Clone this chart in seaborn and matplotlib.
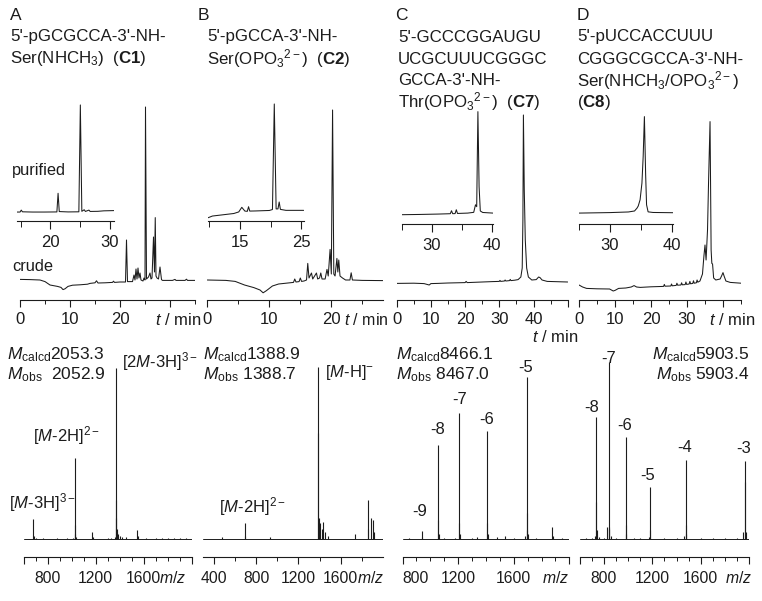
import matplotlib
matplotlib.use("Agg")
import matplotlib.pyplot as plt
import seaborn as sns
import pandas as pd

# ---------------- data ----------------
panel_letters = ["A", "B", "C", "D"]
header_lines = [
    ["5'-pGCGCCA-3'-NH-", r"Ser(NHCH$_3$)  ($\mathbf{C1}$)"],
    ["5'-pGCCA-3'-NH-", r"Ser(OPO$_3$$^{2-}$)  ($\mathbf{C2}$)"],
    ["5'-GCCCGGAUGU", "UCGCUUUCGGGC", "GCCA-3'-NH-",
     r"Thr(OPO$_3$$^{2-}$)  ($\mathbf{C7}$)"],
    ["5'-pUCCACCUUU", "CGGGCGCCA-3'-NH-",
     r"Ser(NHCH$_3$/OPO$_3$$^{2-}$)", r"($\mathbf{C8}$)"],
]
trace_labels = ["purified", "crude"]
time_label = r"$\mathit{t}$ / min"
mz_label = r"$\mathit{m/z}$"

# crude HPLC traces (t in min, signal in arbitrary units)
crudeA_t = [0, 2, 4, 5, 6, 7.5, 8.2, 8.6, 9.0, 9.6, 10.5, 12, 13.5, 14, 15, 15.3, 15.6, 17, 18.5,
            18.7, 18.9, 20, 21.1, 21.3, 21.5, 22.5, 22.8, 23.0, 23.2, 23.4, 23.6, 23.8, 24.0, 24.2,
            24.6, 24.8, 25.0, 25.1, 25.3, 25.7, 26.0, 26.2, 26.4, 26.7, 26.9, 27.05, 27.2, 27.4,
            27.7, 28.0, 28.3, 28.5, 29.5, 30.5, 31, 31.2, 33, 33.3, 33.5, 35]
crudeA_s = [10.3, 10.2, 10.0, 9.2, 7.5, 6.8, 6.3, 5.2, 5.6, 6.8, 7.4, 7.6, 7.9, 8.3, 8.6, 9.6, 8.5,
            8.6, 8.8, 9.4, 8.8, 9.0, 9.0, 30.0, 9.2, 9.2, 12.5, 10.0, 15.5, 10.5, 16.0, 11.0, 13.5,
            10.0, 9.5, 11.0, 10.0, 96.5, 10.5, 11.5, 13.5, 10.5, 11.0, 31.5, 14.0, 41.2, 12.0,
            11.0, 10.5, 16.5, 10.2, 9.8, 9.8, 9.8, 10.3, 9.8, 9.8, 10.4, 9.8, 9.8]
crudeA_t = crudeA_t[:len(crudeA_s)]

crudeB_t = [0, 3, 4.5, 6, 7.5, 8.5, 9.0, 9.5, 10.5, 11.5, 13, 13.9, 14.1, 14.3, 14.8, 15.0, 15.2,
            15.6, 16.0, 16.2, 16.4, 16.8, 17.0, 17.3, 17.6, 17.8, 18.1, 18.3, 18.5, 19.0, 19.3,
            19.5, 19.8, 20.0, 20.2, 20.4, 20.6, 20.9, 21.05, 21.2, 21.4, 21.8, 22.3, 23.0, 23.2,
            23.4, 25, 28.3]
crudeB_s = [10, 9.8, 9.3, 7.5, 6.2, 5.0, 3.6, 4.6, 7.0, 8.0, 8.5, 8.8, 10.5, 9.0, 9.2, 11, 9.3,
            9.5, 10, 18.3, 11, 13.5, 10.5, 12, 13.5, 10.5, 11, 13.5, 10.5, 10.5, 15.3, 12, 25.3,
            13, 95, 13, 12, 20.8, 14, 20, 12, 11, 10, 10, 13.6, 10, 9.8, 9.7]

crudeC_t = [0, 5, 8, 9.5, 10.0, 12, 15, 20, 20.3, 20.6, 25, 28, 30, 30.2, 30.4, 31.5, 31.7, 31.9,
            33, 33.2, 33.4, 34.5, 35.5, 36.3, 36.7, 36.9, 37.05, 37.3, 37.6, 38.0, 38.5, 39.5,
            40.8, 41.5, 41.9, 42.5, 44, 50]
crudeC_s = [8.3, 8.4, 8.2, 7.5, 8.2, 8.3, 8.5, 8.7, 9.3, 8.7, 9.0, 9.2, 9.3, 9.8, 9.3, 9.5, 10.0,
            9.5, 9.7, 10.3, 9.7, 9.9, 10.2, 11.5, 16, 40, 92.5, 55, 30, 16, 11.5, 10, 10.2, 11.5,
            11.2, 10, 9.3, 9.0]

crudeD_t = [0, 1, 2.1, 5, 8.5, 9.5, 10.0, 11, 13, 14.5, 15.3, 16, 17, 20, 23.5, 23.7, 23.9, 25.5,
            25.7, 25.9, 27, 27.2, 27.4, 28.3, 28.5, 28.7, 29.5, 29.7, 29.9, 30.6, 30.8, 31.0,
            31.6, 31.8, 32.0, 32.6, 32.8, 33.0, 33.6, 34.3, 34.7, 35.0, 35.3, 35.7, 36.0, 36.4,
            36.7, 36.9, 37.1, 37.4, 38, 39.2, 39.6, 40.0, 40.3, 40.8, 42, 45]
crudeD_s = [7.5, 6.5, 5.8, 5.6, 5.5, 4.5, 4.8, 5.8, 6.0, 6.5, 7.2, 6.5, 6.3, 6.6, 6.8, 7.8, 6.9,
            7.0, 8.0, 7.1, 7.3, 8.4, 7.4, 7.5, 8.6, 7.6, 7.7, 9.0, 7.8, 8.0, 9.3, 8.1, 8.3, 9.6,
            8.4, 8.6, 10, 8.9, 9.5, 13, 22, 27.5, 20, 35, 60, 89.2, 25, 18.3, 18, 11, 10, 10.5,
            12, 13.7, 12, 9.5, 8.8, 8.4]

# purified HPLC traces (insets)
pureA_t = [14.3, 14.9, 15.1, 15.3, 17, 19, 21.1, 21.3, 21.5, 23, 24.8, 25.05, 25.3, 25.7, 25.9,
           26.5, 26.7, 28, 29, 30.7]
pureA_s = [7.4, 7.4, 9.0, 7.6, 7.4, 7.4, 7.5, 22.9, 7.8, 7.5, 7.6, 95.9, 8.0, 9.3, 7.9, 9.0, 7.9,
           8.0, 8.4, 8.6]
pureB_t = [9.8, 10.5, 12, 14, 14.8, 15.3, 15.8, 16.2, 16.4, 16.6, 17.5, 19.8, 20.3, 20.6, 20.9,
           21.2, 21.4, 21.6, 22.5, 25.4]
pureB_s = [2.7, 4.1, 5.0, 6.2, 7.5, 11.3, 8.2, 8.0, 11.8, 8.2, 8.3, 8.7, 9.5, 96.7, 10, 10, 15.7,
           9.6, 8.8, 8.8]
pureC_t = [25, 28, 31, 33.1, 33.3, 33.5, 33.9, 34.1, 34.3, 36, 37.0, 37.3, 37.5, 37.7, 37.9, 38.1,
           38.5, 40.2]
pureC_s = [7.5, 7.7, 8.0, 8.3, 10.7, 8.3, 8.4, 11.5, 8.5, 8.8, 9.4, 15.5, 14, 90.6, 30, 10.5, 9.3,
           8.8]
pureD_t = [25, 30, 33, 34.0, 34.4, 34.6, 34.9, 35.2, 35.4, 35.6, 35.8, 35.95, 36.2, 37, 40.3]
pureD_s = [8.8, 9.2, 9.7, 10.5, 12.8, 14.5, 19.5, 33, 54.4, 86.6, 40, 15.5, 9.8, 9.3, 9.1]

# ESI mass spectra (m/z, relative intensity)
msA_mz = [682.4, 684, 700, 760, 880, 960, 1010, 1025.6, 1027, 1030, 1040, 1171, 1175, 1300, 1330,
          1360, 1367.9, 1369, 1372, 1376, 1382, 1390, 1400, 1420, 1450, 1547, 1550, 1620, 1700,
          1750, 1800, 1850, 1900, 1950]
msA_int = [11.3, 2, 0.8, 0.6, 0.6, 0.6, 0.8, 45, 8, 3, 1.5, 4.2, 1.5, 0.8, 1, 1.2, 95, 22, 12, 6,
           4, 3, 2, 1.5, 1.2, 5.2, 2, 1, 0.8, 1, 0.8, 0.8, 0.7, 0.8]
msB_mz = [474, 693.5, 695, 931, 1387.9, 1388.6, 1392, 1408, 1420, 1435, 1450, 1480, 1735, 1855,
          1860, 1883, 1908, 1915]
msB_int = [1.5, 9.2, 2, 1.5, 95.9, 59, 12, 9, 6, 9.8, 4, 2, 3, 21.8, 6, 11.7, 10.7, 4]
msC_mz = [850, 939.7, 941, 1057.3, 1058.5, 1061, 1100, 1180, 1208.4, 1209.5, 1212, 1300, 1334,
          1410.0, 1411.5, 1415, 1480, 1537, 1600, 1680, 1692.2, 1693.5, 1697, 1700, 1760, 1878,
          1880, 1950]
msC_int = [1, 4.6, 1.5, 52.4, 10.7, 3, 0.8, 1, 70.3, 9, 3, 1, 1.5, 60.2, 9, 3, 1.2, 1.8, 1.0, 2,
           90.3, 14.6, 5, 3, 0.8, 7, 2, 0.6]
msD_mz = [650, 700, 730, 736.9, 738, 741, 760, 800, 824, 842.4, 843.5, 846, 860, 900, 982.9, 984,
          987, 1050, 1100, 1170, 1179.7, 1181, 1300, 1400, 1460, 1474.9, 1476, 1480, 1600, 1700,
          1800, 1900, 1950, 1966.8, 1968, 1972]
msD_int = [0.8, 1, 2, 67.8, 20.9, 5, 1.5, 1, 7, 98.7, 7, 6, 2, 1, 57, 8, 3, 0.8, 0.8, 1.5, 29.2,
           5, 0.6, 0.8, 2, 44, 8, 3, 0.6, 0.7, 0.6, 1, 4, 43.5, 32, 4]

mass_texts = [
    [r"$\mathit{M}_{\mathrm{calcd}}$2053.3", r"$\mathit{M}_{\mathrm{obs}}$  2052.9"],
    [r"$\mathit{M}_{\mathrm{calcd}}$1388.9", r"$\mathit{M}_{\mathrm{obs}}$ 1388.7"],
    [r"$\mathit{M}_{\mathrm{calcd}}$8466.1", r"$\mathit{M}_{\mathrm{obs}}$ 8467.0"],
    [r"$\mathit{M}_{\mathrm{calcd}}$5903.5", r"$\mathit{M}_{\mathrm{obs}}$ 5903.4"],
]
ionA_labels = [r"[$\mathit{M}$-3H]$^{3-}$", r"[$\mathit{M}$-2H]$^{2-}$", r"[2$\mathit{M}$-3H]$^{3-}$"]
ionB_labels = [r"[$\mathit{M}$-2H]$^{2-}$", r"[$\mathit{M}$-H]$^{-}$"]
chargeC_labels = ["-9", "-8", "-7", "-6", "-5"]
chargeD_labels = ["-8", "-7", "-6", "-5", "-4", "-3"]

# ---------------- style ----------------
sns.set_theme(style="ticks")
plt.rcParams.update({
    "font.family": ["Liberation Sans", "DejaVu Sans"],
    "mathtext.fontset": "custom",
    "mathtext.rm": "Liberation Sans",
    "mathtext.it": "Liberation Sans:italic",
    "mathtext.bf": "Liberation Sans:bold",
    "mathtext.sf": "Liberation Sans",
    "axes.linewidth": 0.8,
})
INK = "#1c1c1c"
W, H = 762, 601
fig = plt.figure(figsize=(W / 100, H / 100), dpi=100)
fig.patch.set_facecolor("white")


def add_ax(x0, x1, ytop, ybot):
    return fig.add_axes([x0 / W, 1 - ybot / H, (x1 - x0) / W, (ybot - ytop) / H])


def ptext(x, y, s, ha="left", va="center", fs=12):
    fig.text(x / W, 1 - y / H, s, ha=ha, va=va, fontsize=fs, color=INK)


def style_axis(ax, xlim, ylim, major, labels, minor, fs, maj_len, min_len, pad):
    ax.set_xlim(*xlim)
    ax.set_ylim(*ylim)
    ax.set_facecolor("none")
    for side in ("top", "left", "right"):
        ax.spines[side].set_visible(False)
    ax.spines["bottom"].set_color(INK)
    ax.spines["bottom"].set_linewidth(0.8)
    ax.set_yticks([])
    ax.set_xticks(major)
    ax.set_xticklabels(labels)
    ax.set_xticks(minor, minor=True)
    ax.tick_params(axis="x", which="major", bottom=True, direction="out", length=maj_len,
                   width=0.8, color=INK, labelsize=fs, pad=pad, labelcolor=INK)
    ax.tick_params(axis="x", which="minor", bottom=True, direction="out", length=min_len,
                   width=0.7, color=INK)
    ax.set_xlabel("")
    ax.set_ylabel("")
    ax.grid(False)


def trace(ax, t, s, lw=0.75):
    df = pd.DataFrame({"t": t, "s": s})
    sns.lineplot(data=df, x="t", y="s", ax=ax, sort=False, estimator=None,
                 color=INK, linewidth=lw, legend=False)


def spectrum(ax, mz, inten, lo, hi):
    sns.lineplot(x=[lo, hi], y=[0, 0], ax=ax, color=INK, linewidth=0.7,
                 estimator=None, legend=False)
    ax.vlines(mz, 0, inten, colors=INK, linewidth=0.8)


# ---------------- headers ----------------
letter_x = [10, 198, 395, 577]
text_x = [10, 207, 398, 577]
line_y = [37, 59, 80.5, 102]
for i in range(4):
    ptext(letter_x[i], 16, panel_letters[i], fs=12.5)
    for j, line in enumerate(header_lines[i]):
        ptext(text_x[i], line_y[j], line, fs=12.2)

ptext(12, 171, trace_labels[0], fs=11.8)
ptext(12, 266, trace_labels[1], fs=11.8)

# ---------------- main chromatograms ----------------
CH_TOP, CH_BOT = 100, 300
axA = add_ax(20, 195, CH_TOP, CH_BOT)
trace(axA, crudeA_t, crudeA_s)
style_axis(axA, (0, 35), (0, 100), [0, 10, 20, 30], ["0", "10", "20", ""],
           [5, 15, 25, 35], 12, 5, 3, 4)

axB = add_ax(207.3, 382.8, CH_TOP, CH_BOT)
trace(axB, crudeB_t, crudeB_s)
style_axis(axB, (0, 28.3), (0, 100), [0, 10, 20], ["0", "10", "20"],
           [5, 15, 25], 12, 5, 3, 4)

axC = add_ax(396.7, 567.7, CH_TOP, CH_BOT)
trace(axC, crudeC_t, crudeC_s)
style_axis(axC, (0, 50), (0, 100), [0, 10, 20, 30, 40, 50], ["0", "10", "20", "30", "40", ""],
           [5, 15, 25, 35, 45], 12, 5, 3, 4)

axD = add_ax(579, 741, CH_TOP, CH_BOT)
trace(axD, crudeD_t, crudeD_s)
style_axis(axD, (0, 45), (0, 100), [0, 10, 20, 30, 40], ["0", "10", "20", "30", ""],
           [5, 15, 25, 35, 45], 12, 5, 3, 4)

ptext(178, 320, time_label, ha="center", fs=12)
ptext(366, 320, time_label, ha="center", fs=11.5)
ptext(555, 337, time_label, ha="center", fs=12)
ptext(732, 320, time_label, ha="center", fs=12)

# ---------------- insets (purified) ----------------
iA = add_ax(16.5, 113.9, 100, 221)
trace(iA, pureA_t, pureA_s)
style_axis(iA, (14.3, 30.7), (0, 100), [20, 30], ["20", "30"], [15, 25], 12, 6, 4, 4)

iB = add_ax(208.1, 303.7, 100, 221)
trace(iB, pureB_t, pureB_s)
style_axis(iB, (9.8, 25.4), (0, 100), [15, 25], ["15", "25"], [10, 20], 12, 6, 4, 4)

iC = add_ax(401.7, 492.9, 100, 224)
trace(iC, pureC_t, pureC_s)
style_axis(iC, (25, 40.2), (0, 100), [30, 40], ["30", "40"], [25, 35], 12, 6, 4, 4)

iD = add_ax(579, 673.4, 100, 224)
trace(iD, pureD_t, pureD_s)
style_axis(iD, (25, 40.3), (0, 100), [30, 40], ["30", "40"], [25, 35], 12, 6, 4, 4)

# ---------------- mass spectra ----------------
MS_TOP, MS_BOT = 350, 557
MS_YLIM = (-9.83, 105.2)
mA = add_ax(23.5, 191.7, MS_TOP, MS_BOT)
spectrum(mA, msA_mz, msA_int, 600, 2000)
style_axis(mA, (600, 2000), MS_YLIM, [600, 800, 1200, 1600, 2000], ["", "800", "1200", "1600", ""],
           [700, 900, 1000, 1100, 1300, 1400, 1500, 1700, 1800, 1900], 11.3, 5, 3, 5)

mB = add_ax(203.3, 383, MS_TOP, MS_BOT)
spectrum(mB, msB_mz, msB_int, 300, 2000)
style_axis(mB, (300, 2000), MS_YLIM, [400, 800, 1200, 1600], ["400", "800", "1200", "1600"],
           [600, 1000, 1400, 1800], 11.3, 5, 3, 5)

mC = add_ax(402.5, 569.3, MS_TOP, MS_BOT)
spectrum(mC, msC_mz, msC_int, 800, 2000)
style_axis(mC, (800, 2000), MS_YLIM, [800, 1200, 1600, 2000], ["800", "1200", "1600", ""],
           [900, 1000, 1100, 1300, 1400, 1500, 1700, 1800, 1900], 11.3, 5, 3, 5)
mC.get_xticklabels()[0].set_horizontalalignment("left")

mD = add_ax(579.5, 749.3, MS_TOP, MS_BOT)
spectrum(mD, msD_mz, msD_int, 600, 2000)
style_axis(mD, (600, 2000), MS_YLIM, [600, 800, 1200, 1600, 2000], ["", "800", "1200", "1600", ""],
           [700, 900, 1000, 1100, 1300, 1400, 1500, 1700, 1800, 1900], 11.3, 5, 3, 5)

for xc in (173, 371, 556, 739):
    ptext(xc, 578, mz_label, ha="center", fs=11.3)

# mass annotations
ptext(7, 355, mass_texts[0][0], fs=12.5)
ptext(7, 375, mass_texts[0][1], fs=12.5)
ptext(202.7, 355, mass_texts[1][0], fs=12.5)
ptext(202.7, 375, mass_texts[1][1], fs=12.5)
ptext(396, 355, mass_texts[2][0], fs=12.5)
ptext(396, 375, mass_texts[2][1], fs=12.5)
ptext(749.3, 355, mass_texts[3][0], ha="right", fs=12.5)
ptext(749.3, 375, mass_texts[3][1], ha="right", fs=12.5)

ptext(42, 503, ionA_labels[0], ha="center", fs=12)
ptext(66, 436, ionA_labels[1], ha="center", fs=12)
ptext(160, 362, ionA_labels[2], ha="center", fs=12)
ptext(252, 507, ionB_labels[0], ha="center", fs=12)
ptext(350, 373, ionB_labels[1], ha="center", fs=12)

for lab, (x, y) in zip(chargeC_labels, [(420, 512), (437.3, 430), (459.3, 400),
                                        (486.7, 419.3), (525.7, 367)]):
    ptext(x, y, lab, ha="center", fs=12)
for lab, (x, y) in zip(chargeD_labels, [(591.7, 407), (608.3, 358.5), (624.3, 426),
                                        (647.7, 475), (685, 447), (743.3, 448.5)]):
    ptext(x, y, lab, ha="center", fs=12)

fig.savefig("out.png", dpi=100, facecolor="white")
